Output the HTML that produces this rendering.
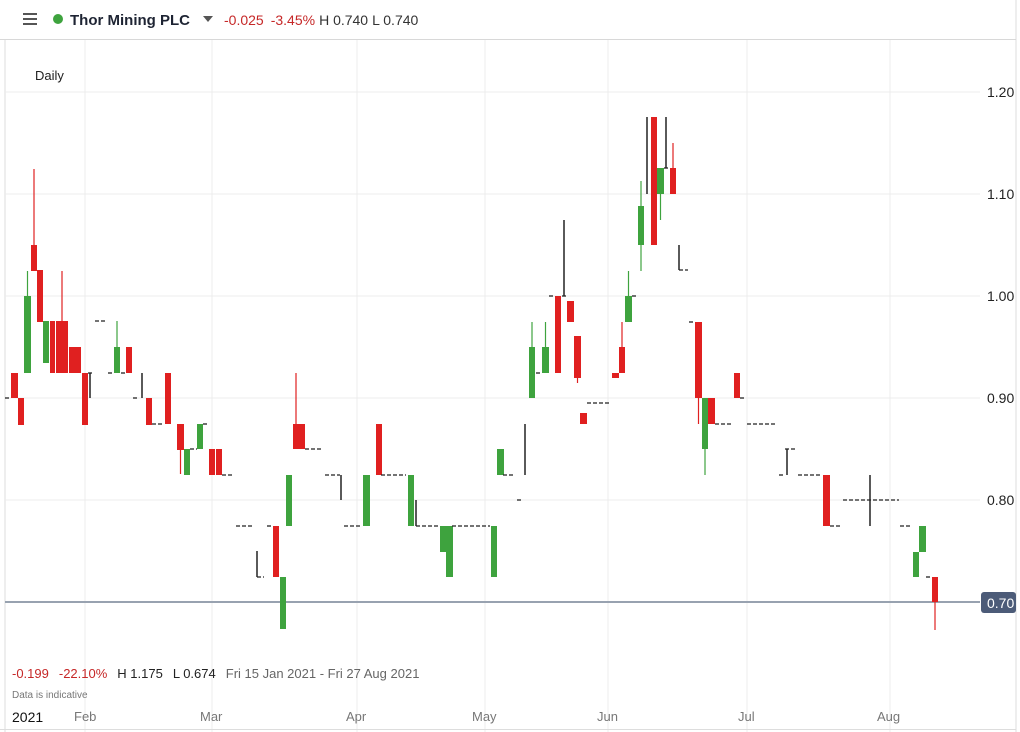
<!DOCTYPE html>
<html><head><meta charset="utf-8"><style>
body{margin:0;width:1020px;height:732px;background:#fff;overflow:hidden;font-family:"Liberation Sans",sans-serif}
svg{position:absolute;left:0;top:0}
</style></head><body>
<svg id="s" width="1020" height="732" xmlns="http://www.w3.org/2000/svg">
<rect width="1020" height="732" fill="#fff"/>
<line x1="5" y1="40" x2="5" y2="732" stroke="#ddd"/>
<line x1="1016" y1="0" x2="1016" y2="732" stroke="#ddd"/>
<line x1="0" y1="39.5" x2="1016" y2="39.5" stroke="#d8d8d8"/>
<g stroke="#ececec" stroke-width="1">
<line x1="5" y1="92" x2="980" y2="92"/><line x1="5" y1="194" x2="980" y2="194"/>
<line x1="5" y1="296" x2="980" y2="296"/><line x1="5" y1="398" x2="980" y2="398"/>
<line x1="5" y1="500" x2="980" y2="500"/>
<line x1="85" y1="40" x2="85" y2="732"/><line x1="212" y1="40" x2="212" y2="732"/>
<line x1="357" y1="40" x2="357" y2="732"/><line x1="485" y1="40" x2="485" y2="732"/>
<line x1="608" y1="40" x2="608" y2="732"/><line x1="747" y1="40" x2="747" y2="732"/>
<line x1="890" y1="40" x2="890" y2="732"/>
</g>
<line x1="5" y1="602" x2="980" y2="602" stroke="#98a2b0" stroke-width="2"/>
<g id="c"></g>
<g font-size="14" fill="#222">
<text x="987" y="97">1.20</text><text x="987" y="199">1.10</text><text x="987" y="301">1.00</text>
<text x="987" y="403">0.90</text><text x="987" y="505">0.80</text>
</g>
<rect x="981" y="592" width="35" height="21" rx="3" fill="#4c5b78"/>
<text x="987" y="608" font-size="14" fill="#fff">0.70</text>
<g stroke="#555" stroke-width="2"><line x1="23" y1="14" x2="37" y2="14"/><line x1="23" y1="19" x2="37" y2="19"/><line x1="23" y1="24" x2="37" y2="24"/></g>
<circle cx="58" cy="19" r="5" fill="#3ea33e"/>
<text x="70" y="25" font-size="15" font-weight="bold" fill="#1e2433">Thor Mining PLC</text>
<path d="M203 16 L213 16 L208 22 Z" fill="#555"/>
<text x="224" y="25" font-size="14"><tspan fill="#c62828">-0.025</tspan><tspan fill="#c62828" dx="7">-3.45%</tspan><tspan fill="#333" dx="4">H 0.740</tspan><tspan fill="#333" dx="4">L 0.740</tspan></text>
<text x="35" y="80" font-size="13" fill="#222">Daily</text>
<text x="12" y="678" font-size="13"><tspan fill="#c62828">-0.199</tspan><tspan fill="#c62828" dx="10">-22.10%</tspan><tspan fill="#222" dx="10">H 1.175</tspan><tspan fill="#222" dx="10">L 0.674</tspan><tspan fill="#666" dx="10">Fri 15 Jan 2021 - Fri 27 Aug 2021</tspan></text>
<text x="12" y="698" font-size="10" fill="#777">Data is indicative</text>
<text x="12" y="722" font-size="14" fill="#111">2021</text>
<g font-size="13" fill="#777"><text x="74" y="721">Feb</text><text x="200" y="721">Mar</text><text x="346" y="721">Apr</text><text x="472" y="721">May</text><text x="597" y="721">Jun</text><text x="738" y="721">Jul</text><text x="877" y="721">Aug</text></g>
<line x1="0" y1="729.5" x2="1016" y2="729.5" stroke="#ddd"/>
</svg>
<script>
var R="#e02020",G="#3ea33e",K="#222";
// bodies: [x1,x2,y1,y2,color,wickTop,wickBot]
var B=[[11,17,373,398,R],[18,23,398,425,R],[24,30,296,373,G,271],[31,36,245,271,R,169],[37,42,270,322,R],[43,48,321,363,G],[50,54,321,373,R],[56,67,321,373,R,271],[69,80,347,373,R],[82,87,373,425,R],
[114,119,347,373,G,321],[126,131,347,373,R],[146,151,398,425,R],[165,170,373,424,R],[177,183,424,450,R,424,474],[184,189,449,475,G],[197,202,424,449,G],[209,214,449,475,R],[216,221,449,475,R],
[273,278,526,577,R],[280,285,577,629,G],[286,291,475,526,G],[293,298,424,449,R,373],[299,304,424,449,R],
[363,369,475,526,G],[376,381,424,475,R],[408,413,475,526,G],[440,445,526,552,G],[446,452,526,577,G],[491,496,526,577,G],[497,503,449,475,G],
[529,534,347,398,G,322],[542,548,347,373,G,322],[555,560,296,373,R],[567,573,301,322,R],[574,580,336,378,R,336,383],[580,586,413,424,R],
[612,618,373,378,R],[619,624,347,373,R,322],[625,631,296,322,G,271],[638,643,206,245,G,181,271],[651,656,117,245,R],[657,663,168,194,G,168,220],[670,675,168,194,R,143],
[695,701,322,398,R,322,424],[702,707,398,449,G,398,475],[708,714,398,424,R],[734,739,373,398,R],
[823,829,475,526,R],[913,918,552,577,G],[919,925,526,552,G],[932,937,577,602,R,577,630]];
// dashes [x1,x2,y]
var D=[[5,11,398],[88,92,373],[95,106,321],[108,112,373],[121,125,373],[133,138,398],[152,162,424],[190,197,449],[203,208,424],[222,234,475],[236,252,526],[257,264,577],[267,273,526],[305,322,449],[325,340,475],[344,362,526],[381,406,475],[416,440,526],[452,490,526],[503,515,475],[517,521,500],[536,541,373],[549,553,296],[562,566,296],[587,610,403],[632,636,296],[664,668,168],[679,688,270],[689,695,322],[715,733,424],[740,745,398],[747,777,424],[779,785,475],[785,795,449],[798,822,475],[830,841,526],[843,899,500],[900,910,526],[926,931,577]];
// black verticals [x,y1,y2]
var V=[[90,373,398],[142,373,398],[257,551,577],[341,475,500],[416,500,526],[525,424,475],[564,220,296],[647,117,194],[666,117,168],[679,245,270],[787,449,475],[870,475,526]];
var h="";
B.forEach(function(b){var cx=(b[0]+b[1])/2+0.5;if(b[5]!==undefined){h+='<line x1="'+cx+'" x2="'+cx+'" y1="'+b[5]+'" y2="'+(b[6]||b[3])+'" stroke="'+b[4]+'" stroke-width="1.2"/>';}
h+='<rect x="'+b[0]+'" y="'+b[2]+'" width="'+(b[1]-b[0]+1)+'" height="'+Math.max(2,b[3]-b[2])+'" fill="'+b[4]+'"/>';});
D.forEach(function(d){h+='<line x1="'+d[0]+'" x2="'+d[1]+'" y1="'+d[2]+'" y2="'+d[2]+'" stroke="'+K+'" stroke-width="1.3" stroke-dasharray="4,2"/>';});
V.forEach(function(v){h+='<line x1="'+v[0]+'" x2="'+v[0]+'" y1="'+v[1]+'" y2="'+v[2]+'" stroke="'+K+'" stroke-width="1.5"/>';});
document.getElementById("c").innerHTML=h;
</script>
</body></html>
